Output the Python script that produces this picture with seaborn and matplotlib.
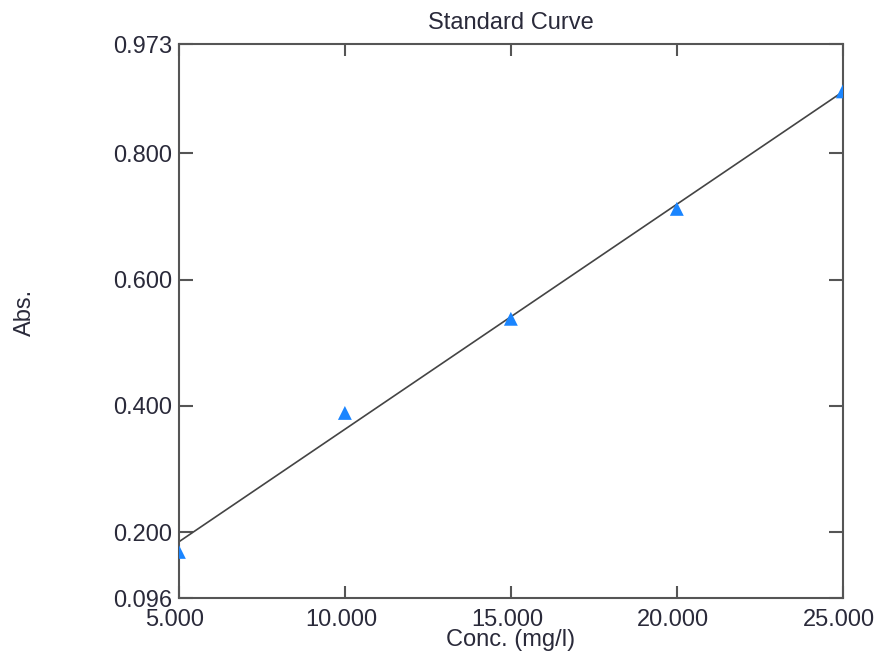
import numpy as np
import pandas as pd
import matplotlib.pyplot as plt
import matplotlib.transforms as mtransforms
import seaborn as sns

# standard curve readings
conc = [5.0, 10.0, 15.0, 20.0, 25.0]
absorbance = [0.169, 0.389, 0.538, 0.712, 0.898]
x_ticks = [5.0, 10.0, 15.0, 20.0, 25.0]
y_ticks = [0.096, 0.200, 0.400, 0.600, 0.800, 0.973]

df = pd.DataFrame({"Conc": conc, "Abs": absorbance})

sns.set_style("white")
plt.rcParams["font.family"] = ["Liberation Sans", "DejaVu Sans"]

fig = plt.figure(figsize=(8.77, 6.51), dpi=100)
ax = fig.add_axes([0.204, 0.0814, 0.757, 0.851])

sns.regplot(data=df, x="Conc", y="Abs", ax=ax, ci=None, truncate=True,
            marker="^",
            scatter_kws={"s": 100, "color": "#1a85ff", "alpha": 1,
                         "edgecolor": "none", "zorder": 3},
            line_kws={"color": "#444444", "linewidth": 1.2})

ax.set_xlim(5, 25)
ax.set_ylim(0.096, 0.973)
ax.set_xticks(x_ticks)
ax.set_yticks(y_ticks)
ax.xaxis.set_major_formatter(plt.FormatStrFormatter("%.3f"))
ax.yaxis.set_major_formatter(plt.FormatStrFormatter("%.3f"))

for s in ax.spines.values():
    s.set_color("#555555")
    s.set_linewidth(1.5)

txt = "#2a2a3a"
ax.tick_params(axis="both", direction="in", top=True, right=True,
               bottom=True, left=True,
               color="#555555", width=1.5, labelsize=17, labelcolor=txt)
ax.tick_params(axis="x", length=8.5, pad=8)
ax.tick_params(axis="y", length=10, pad=5)

# x labels sit a few pixels left of their ticks in the original
shift = mtransforms.ScaledTranslation(-4 / 100, 0, fig.dpi_scale_trans)
for lbl in ax.get_xticklabels():
    lbl.set_transform(lbl.get_transform() + shift)

ax.set_title("Standard Curve", fontsize=17, color=txt, pad=11)
ax.set_xlabel("Conc. (mg/l)", fontsize=17, color=txt)
ax.set_ylabel("Abs.", fontsize=17, color=txt)
ax.xaxis.set_label_coords(0.5, -0.056)
ax.yaxis.set_label_coords(-0.215, 0.516)

plt.savefig("out.png", dpi=100)
plt.close()
